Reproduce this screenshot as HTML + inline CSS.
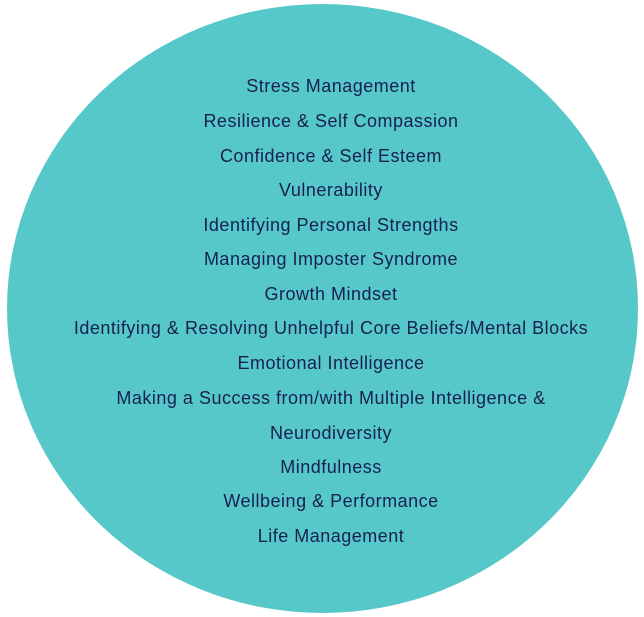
<!DOCTYPE html>
<html><head><meta charset="utf-8"><style>
html,body{margin:0;padding:0;background:#fff;}
body{width:644px;height:617px;position:relative;overflow:hidden;}
.c{position:absolute;left:7px;top:4px;width:631px;height:609px;border-radius:50%;background:#57c8ca;}
.t{position:absolute;left:0;width:662px;text-align:center;font-family:"Liberation Sans",Arial,sans-serif;font-size:18px;letter-spacing:0.5px;color:#17204f;line-height:20px;white-space:nowrap;}
</style></head><body>
<div class="c"></div>
<div class="t" style="top:76px">Stress Management</div>
<div class="t" style="top:111px">Resilience &amp; Self Compassion</div>
<div class="t" style="top:146px">Confidence &amp; Self Esteem</div>
<div class="t" style="top:180px">Vulnerability</div>
<div class="t" style="top:215px">Identifying Personal Strengths</div>
<div class="t" style="top:249px">Managing Imposter Syndrome</div>
<div class="t" style="top:284px">Growth Mindset</div>
<div class="t" style="top:318px">Identifying &amp; Resolving Unhelpful Core Beliefs/Mental Blocks</div>
<div class="t" style="top:353px">Emotional Intelligence</div>
<div class="t" style="top:388px">Making a Success from/with Multiple Intelligence &amp;</div>
<div class="t" style="top:423px">Neurodiversity</div>
<div class="t" style="top:457px">Mindfulness</div>
<div class="t" style="top:491px">Wellbeing &amp; Performance</div>
<div class="t" style="top:526px">Life Management</div>
</body></html>
